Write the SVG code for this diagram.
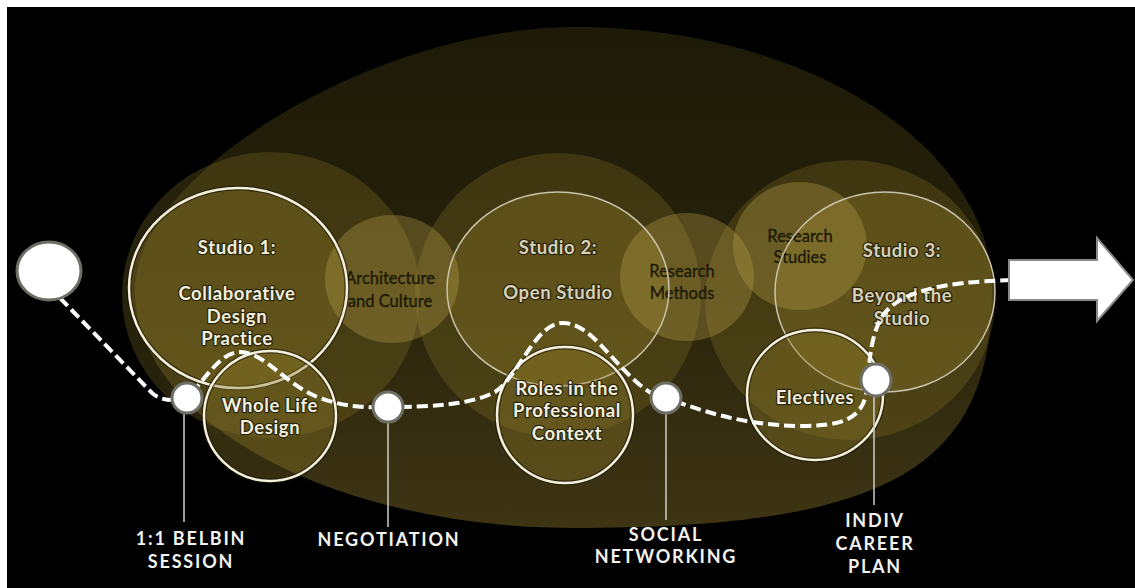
<svg xmlns="http://www.w3.org/2000/svg" width="1135" height="588" viewBox="0 0 1135 588">
<defs>
<linearGradient id="gBig" x1="0" y1="0" x2="0" y2="1">
<stop offset="0" stop-color="#1d1a08"/>
<stop offset="0.45" stop-color="#252009"/>
<stop offset="1" stop-color="#3e3514"/>
</linearGradient>
<style>
.halo{fill:#8c7a28;fill-opacity:0.28}
.light{fill:#b8a24a;fill-opacity:0.34}
.studio{fill:#8c7a28;fill-opacity:0.37}
.thick{stroke:#f4f0dc;stroke-width:2.5}
.thin{fill:none;stroke:#c9c4ad;stroke-width:1.5}
.shadow{fill:none;stroke:#1a1606;stroke-width:5;stroke-opacity:0.6}
.t{font-family:Lato,"Liberation Sans",sans-serif;text-anchor:middle}
.tb{font-weight:bold;font-size:18.5px;letter-spacing:0.6px;fill:#f3efdc;stroke:#2a250d;stroke-width:2.5;paint-order:stroke;stroke-linejoin:round}
.tg{font-weight:bold;font-size:18.5px;letter-spacing:0.6px;fill:#d6d0b6;stroke:#2a250d;stroke-width:2.5;paint-order:stroke;stroke-linejoin:round}
.td{font-size:16.5px;fill:#1c1806;stroke:#1c1806;stroke-width:0.3}
.lab{font-weight:bold;font-size:18px;letter-spacing:1.8px;fill:#f2f2ee}
.dot{fill:#ffffff;stroke:#6d6f66;stroke-width:3}
.vline{stroke:#cfcfc8;stroke-width:1.5}
.dash{fill:none;stroke:#ffffff;stroke-width:4;stroke-dasharray:11 5}
</style>
</defs>
<rect x="0" y="0" width="1135" height="588" fill="#ffffff"/>
<rect x="7" y="7" width="1128" height="581" fill="#000000"/>

<g id="background">
<path d="M 575 27 C 805 27 992 145 992 290 C 992 468 888 528 575 528 C 333 528 135 421 135 290 C 135 172 377 27 575 27 Z" fill="url(#gBig)"/>
<ellipse class="halo" cx="271" cy="295" rx="149" ry="143"/>
<ellipse class="halo" cx="558" cy="295" rx="143" ry="142"/>
<ellipse class="halo" cx="850" cy="300" rx="145" ry="140"/>
</g>

<g id="studio1">
<ellipse class="studio" cx="238" cy="288" rx="109" ry="100"/>
</g>
<g id="studio2">
<ellipse class="studio" cx="558" cy="289" rx="111" ry="97"/>
</g>
<g id="studio3">
<ellipse class="studio" cx="885" cy="292" rx="110" ry="100"/>
</g>

<g id="arch-culture">
<ellipse class="light" cx="392" cy="279" rx="67" ry="64"/>
<text class="t td" x="390" y="284">Architecture</text>
<text class="t td" x="390" y="307">and Culture</text>
</g>
<g id="research-methods">
<ellipse class="light" cx="687" cy="277" rx="67" ry="64"/>
<text class="t td" x="682" y="277">Research</text>
<text class="t td" x="682" y="299">Methods</text>
</g>
<g id="research-studies">
<ellipse class="light" cx="800" cy="246" rx="67" ry="64"/>
<text class="t td" x="800" y="242">Research</text>
<text class="t td" x="800" y="263">Studies</text>
</g>

<g id="studio1-outline">
<ellipse class="shadow" cx="238" cy="288" rx="109" ry="100"/>
<ellipse fill="none" class="thick" cx="238" cy="288" rx="109" ry="100"/>
<text class="t tb" x="237" y="254">Studio 1:</text>
<text class="t tb" x="237" y="300">Collaborative</text>
<text class="t tb" x="237" y="323">Design</text>
<text class="t tb" x="237" y="345">Practice</text>
</g>
<g id="studio2-outline">
<ellipse class="thin" cx="558" cy="289" rx="111" ry="97"/>
<text class="t tg" x="558" y="254">Studio 2:</text>
<text class="t tg" x="558" y="299">Open Studio</text>
</g>
<g id="studio3-outline">
<ellipse class="thin" cx="885" cy="292" rx="110" ry="100"/>
<text class="t tg" x="902" y="257">Studio 3:</text>
<text class="t tg" x="902" y="302">Beyond the</text>
<text class="t tg" x="902" y="325">Studio</text>
</g>

<g id="whole-life">
<ellipse class="studio" cx="270" cy="416" rx="66" ry="65"/>
<ellipse class="shadow" cx="270" cy="416" rx="66" ry="65"/>
<ellipse fill="none" class="thick" cx="270" cy="416" rx="66" ry="65"/>
<text class="t tb" x="270" y="412">Whole Life</text>
<text class="t tb" x="270" y="434">Design</text>
</g>
<g id="roles">
<ellipse class="studio" cx="565" cy="415" rx="68" ry="68"/>
<ellipse class="shadow" cx="565" cy="415" rx="68" ry="68"/>
<ellipse fill="none" class="thick" cx="565" cy="415" rx="68" ry="68"/>
<text class="t tb" x="567" y="395">Roles in the</text>
<text class="t tb" x="567" y="417">Professional</text>
<text class="t tb" x="567" y="440">Context</text>
</g>
<g id="electives">
<ellipse class="studio" cx="815" cy="395" rx="68" ry="65"/>
<ellipse class="shadow" cx="815" cy="395" rx="68" ry="65"/>
<ellipse fill="none" class="thick" cx="815" cy="395" rx="68" ry="65"/>
<text class="t tb" x="815" y="404">Electives</text>
</g>

<g id="connectors">
<path class="dash" d="M 60 298 L 152 393 Q 165 404 187 398 C 205 380 220 352 240 352 C 265 352 285 385 320 398 C 345 407 365 408 388 407 C 430 407 470 405 495 392 C 520 375 535 323 563 323 C 590 323 610 360 640 385 C 650 393 658 398 666 398 C 700 410 740 425 800 426 C 840 426 860 420 866 395 C 870 370 868 345 880 320 C 895 292 940 282 1012 280"/>
<line class="vline" x1="184" y1="413" x2="184" y2="522"/>
<line class="vline" x1="388" y1="422" x2="388" y2="527"/>
<line class="vline" x1="666" y1="413" x2="666" y2="520"/>
<line class="vline" x1="874" y1="396" x2="874" y2="505"/>
</g>

<g id="start">
<ellipse cx="49" cy="271" rx="32" ry="29" class="dot"/>
</g>
<g id="arrow">
<polygon points="1009,260 1097,260 1097,238 1133,280 1097,321 1097,300 1009,300" fill="#ffffff" stroke="#8a8a86" stroke-width="2"/>
</g>

<g id="belbin">
<circle class="dot" cx="187" cy="398" r="15"/>
<text class="t lab" x="191" y="545">1:1 BELBIN</text>
<text class="t lab" x="191" y="568">SESSION</text>
</g>
<g id="negotiation">
<circle class="dot" cx="388" cy="407" r="15"/>
<text class="t lab" x="389" y="546">NEGOTIATION</text>
</g>
<g id="social">
<circle class="dot" cx="666" cy="398" r="15"/>
<text class="t lab" x="666" y="541">SOCIAL</text>
<text class="t lab" x="666" y="563">NETWORKING</text>
</g>
<g id="career">
<ellipse class="dot" cx="876" cy="380" rx="15" ry="16"/>
<text class="t lab" x="875" y="527">INDIV</text>
<text class="t lab" x="875" y="550">CAREER</text>
<text class="t lab" x="875" y="573">PLAN</text>
</g>
</svg>
